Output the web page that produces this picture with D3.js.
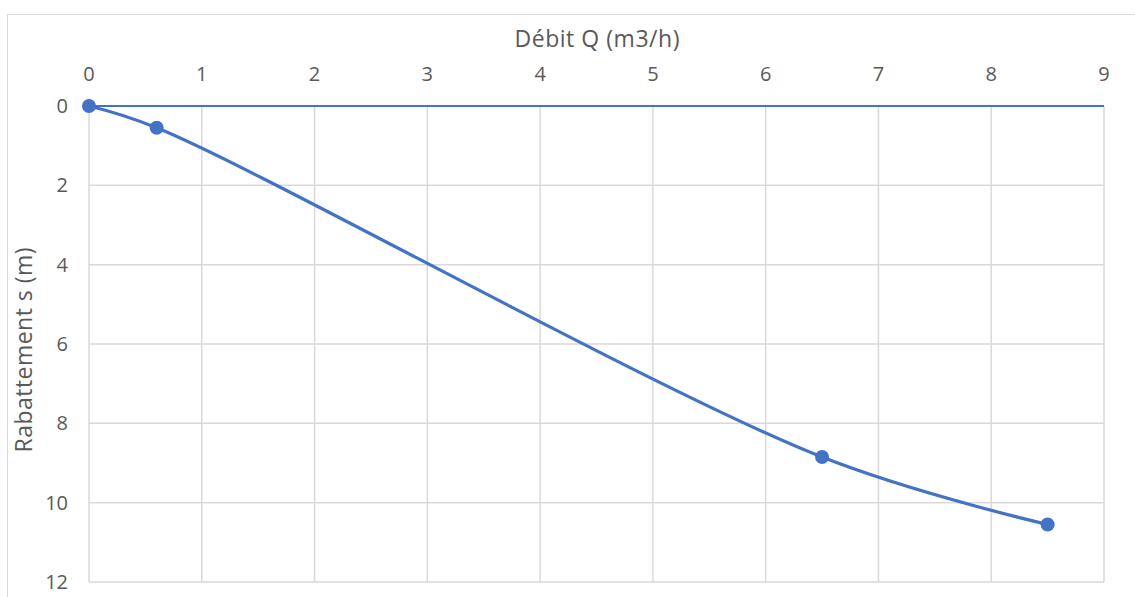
<!DOCTYPE html>
<html><head><meta charset="utf-8">
<script src="https://cdn.jsdelivr.net/npm/d3@7"></script>
<style>body{margin:0;background:#fff}svg{display:block}</style>
</head><body>
<script>
const debit = [0, 0.6, 6.5, 8.5];
const rabattement = [0, 0.55, 8.85, 10.55];
const xTicks = [0,1,2,3,4,5,6,7,8,9];
const yTicks = [0,2,4,6,8,10,12];
const xTitle = "Débit Q (m3/h)";
const yTitle = "Rabattement s (m)";

const W = 1135, H = 597;
const m = {left: 89, right: 31, top: 106, bottom: 15};
const svg = d3.select("body").append("svg").attr("width", W).attr("height", H);
svg.append("rect").attr("x",7.5).attr("y",14.5).attr("width",W).attr("height",H).attr("fill","#fff").attr("stroke","#d9d9d9").attr("stroke-width",1);

const x = d3.scaleLinear().domain([0,9]).range([m.left, W - m.right]);
const y = d3.scaleLinear().domain([0,12]).range([m.top, H - m.bottom]);
const font = "'Open Sans', sans-serif";
const grey = "#595959";
const fs = 20;

const g = svg.append("g");
g.selectAll(".vg").data(xTicks).enter().append("line")
  .attr("x1", d=>x(d)).attr("x2", d=>x(d)).attr("y1", y(0)).attr("y2", y(12))
  .attr("stroke","#d9d9d9").attr("stroke-width",1.5);
g.selectAll(".hg").data(yTicks).enter().append("line")
  .attr("x1", x(0)).attr("x2", x(9)).attr("y1", d=>y(d)).attr("y2", d=>y(d))
  .attr("stroke","#d9d9d9").attr("stroke-width",1.5);
g.append("line").attr("x1", x(0)).attr("x2", x(9)).attr("y1", y(0)).attr("y2", y(0))
  .attr("stroke","#4472C4").attr("stroke-width",2);

g.selectAll(".xl").data(xTicks).enter().append("text")
  .attr("x", d=>x(d)).attr("y", 81).attr("text-anchor","middle")
  .attr("font-family",font).attr("font-size",fs).attr("fill",grey).text(d=>d);
g.selectAll(".yl").data(yTicks).enter().append("text")
  .attr("x", 68).attr("y", d=>y(d)+7).attr("text-anchor","end")
  .attr("font-family",font).attr("font-size",fs).attr("fill",grey).text(d=>d);

svg.append("text").attr("x", 597).attr("y", 47).attr("text-anchor","middle")
  .attr("font-family",font).attr("font-size",23).attr("fill",grey).attr("textLength",165).text(xTitle);
svg.append("text").attr("transform",`translate(32,350) rotate(-90)`)
  .attr("text-anchor","middle").attr("font-family",font).attr("font-size",23).attr("fill",grey).attr("textLength",205).text(yTitle);

const pts = debit.map((d,i)=>[d, rabattement[i]]);
const line = d3.line().x(d=>x(d[0])).y(d=>y(d[1])).curve(d3.curveCatmullRom.alpha(0.5));
svg.append("path").datum(pts).attr("d", line).attr("fill","none")
  .attr("stroke","#4472C4").attr("stroke-width",3.2).attr("stroke-linecap","round");
svg.selectAll(".pt").data(pts).enter().append("circle")
  .attr("cx", d=>x(d[0])).attr("cy", d=>y(d[1])).attr("r",7).attr("fill","#4472C4");
</script>
</body></html>
